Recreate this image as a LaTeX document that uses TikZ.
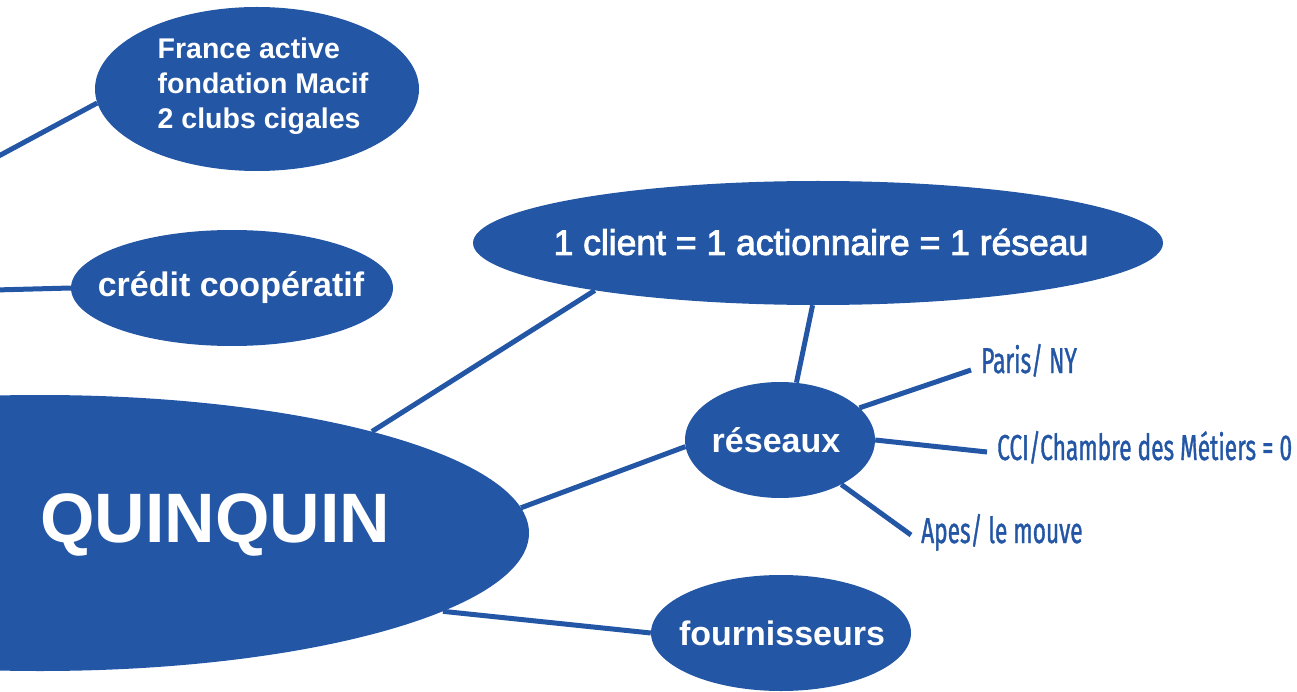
\documentclass[tikz,border=0pt]{standalone}
\usepackage{fontspec}
\setmainfont{Liberation Sans}
\newfontfamily\condfont[FakeStretch=0.63,FakeBold=1]{Fira Sans}
\newfontfamily\medfont[FakeBold=2.5]{Liberation Sans}
\usetikzlibrary{shapes.geometric}
\definecolor{qblue}{RGB}{35,86,165}
\begin{document}
\begin{tikzpicture}[x=1pt,y=-1pt,
  bubble/.style={ellipse, fill=qblue, inner sep=0pt},
  btext/.style={text=white, inner sep=0pt, font=\bfseries\fontsize{34}{40}\selectfont, align=center},
  link/.style={draw=qblue, line width=5pt},
  leaf/.style={text=qblue, font=\condfont\fontsize{36}{40}\selectfont, anchor=base west, inner xsep=10pt, inner ysep=0pt}]
\clip (0,0) rectangle (1297,692);
% bubbles
\node[bubble, minimum width=978pt, minimum height=276pt] (q) at (40,533) {};
\node[bubble, minimum width=324pt, minimum height=164pt] (fa) at (257,89) {};
\node[bubble, minimum width=322pt, minimum height=116pt] (cc) at (232,288) {};
\node[bubble, minimum width=690pt, minimum height=124pt] (c1) at (818,243) {};
\node[bubble, minimum width=190pt, minimum height=116pt] (r) at (780,440) {};
\node[bubble, minimum width=260pt, minimum height=116pt] (f) at (781,633) {};
% texts
\node[btext, font=\bfseries\fontsize{70}{80}\selectfont] (qt) at (215,525) {QUINQUIN};
\node[btext, align=left, font=\bfseries\fontsize{28.5}{35}\selectfont] (fat) at (263,86) {France active\\fondation Macif\\2 clubs cigales};
\node[btext] (cct) at (231,288) {crédit coopératif};
\node[btext, font=\medfont\fontsize{35.5}{40}\selectfont] (c1t) at (821,242) {1 client = 1 actionnaire = 1 réseau};
\node[btext] (rt) at (776,440) {réseaux};
\node[btext] (ft) at (782,633) {fournisseurs};
\node[leaf] (paris) at (971,373) {Paris/ NY};
\node[leaf] (cci) at (987,460) {CCI/Chambre des Métiers = 0};
\node[leaf] (apes) at (911,543) {Apes/ le mouve};
\coordinate (e1) at (-5,158);
\coordinate (e2) at (-5,290);
% connectors
\draw[link] (e1) -- (fa.185);
\draw[link] (e2) -- (cc.180);
\draw[link] (q.17.6) -- (c1.192.8);
\draw[link] (q.3) -- (r.184);
\draw[link] (q.349.8) -- (f.180);
\draw[link] (c1.265) -- (r.74);
\draw[link] (r.22) -- ([yshift=3pt]paris.base west);
\draw[link] (r.0) -- ([yshift=8pt]cci.base west);
\draw[link] (r.324) -- ([yshift=8pt]apes.base west);
\end{tikzpicture}
\end{document}
